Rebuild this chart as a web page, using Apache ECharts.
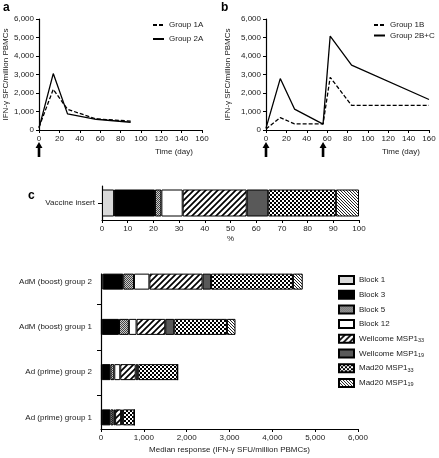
<!DOCTYPE html>
<html><head><meta charset="utf-8">
<script src="https://cdn.jsdelivr.net/npm/echarts@6/dist/echarts.min.js"></script>
<style>html,body{margin:0;padding:0;background:#fff}#c{width:439px;height:458px}</style>
</head><body><div id="c"></div>
<script>
// ---- data ----
const daysA = [0, 14, 28, 56, 90];
const group1A = [150, 2200, 1120, 600, 480];
const group2A = [100, 3050, 870, 580, 420];
const daysB = [0, 14, 28, 56, 63, 84, 160];
const group1B = [50, 670, 330, 330, 2850, 1330, 1330];
const group2BC = [100, 2780, 1130, 320, 5080, 3510, 1650];
const vaccA = [0];
const vaccB = [0, 56];

const blocks = ['Block 1', 'Block 3', 'Block 5', 'Block 12', 'Wellcome MSP1_33', 'Wellcome MSP1_19', 'Mad20 MSP1_33', 'Mad20 MSP1_19'];
const insertPct = [4.7, 15.9, 2.5, 8.3, 24.9, 8.4, 26.3, 9.0];
const groups = ['Ad (prime) group 1', 'Ad (prime) group 2', 'AdM (boost) group 1', 'AdM (boost) group 2'];
const block1 = [20, 20, 20, 40];
const block3 = [200, 200, 400, 480];
const block5 = [70, 90, 230, 250];
const block12 = [40, 140, 180, 360];
const wellcome33 = [140, 360, 670, 1240];
const wellcome19 = [40, 60, 210, 200];
const mad33 = [270, 920, 1230, 1910];
const mad19 = [0, 0, 200, 230];
const groupValues = [block1, block3, block5, block12, wellcome33, wellcome19, mad33, mad19];

// ---- patterns ----
function pat(w, h, draw) {
  const c = document.createElement('canvas'); c.width = w; c.height = h;
  const g = c.getContext('2d'); g.fillStyle = '#fff'; g.fillRect(0, 0, w, h); draw(g);
  return { image: c, repeat: 'repeat' };
}
const fills = [
  '#d9d9d9',
  '#000',
  pat(2, 2, g => { g.fillStyle = '#ccc'; g.fillRect(0,0,2,2); g.fillStyle = '#444'; g.fillRect(0,0,1,1); g.fillRect(1,1,1,1); }),
  '#fff',
  pat(6, 6, g => { g.strokeStyle = '#000'; g.lineWidth = 1.7; g.beginPath();
    g.moveTo(0,6); g.lineTo(6,0); g.moveTo(-3,3); g.lineTo(3,-3); g.moveTo(3,9); g.lineTo(9,3); g.stroke(); }),
  '#595959',
  pat(4, 4, g => { g.fillStyle = '#000'; g.fillRect(0,0,2,2); g.fillRect(2,2,2,2); }),
  pat(3, 3, g => { g.fillStyle = '#222'; g.fillRect(0,0,1,1); g.fillRect(1,1,1,1); g.fillRect(2,2,1,1); })
];

const FONT = 'Liberation Sans, Arial, sans-serif';
const TXT = '#222';
const axLine = { show: true, lineStyle: { color: '#000', width: 1.2 } };
const axTick = { show: true, length: 3, lineStyle: { color: '#000', width: 1 } };
const fmt = v => v.toLocaleString('en-US');

function timeX(gi) {
  return { type: 'value', gridIndex: gi, min: 0, max: 160, interval: 20,
    axisLine: axLine, axisTick: axTick, splitLine: { show: false },
    axisLabel: { fontSize: 8, color: TXT, fontFamily: FONT, margin: 5, showMinLabel: true, showMaxLabel: true } };
}
function respY(gi, gap) {
  return { type: 'value', gridIndex: gi, min: 0, max: 6000, interval: 1000,
    name: 'IFN-\u03b3 SFC/million PBMCs', nameLocation: 'middle', nameGap: gap, nameRotate: 90,
    nameTextStyle: { fontSize: 8, color: TXT, fontFamily: FONT },
    axisLine: axLine, axisTick: axTick, splitLine: { show: false },
    axisLabel: { fontSize: 8, color: TXT, fontFamily: FONT, margin: 5, formatter: fmt, showMinLabel: true, showMaxLabel: true } };
}
function lineSeries(name, xs, ys, gi, dashed) {
  return { type: 'line', name, xAxisIndex: gi, yAxisIndex: gi, symbol: 'none', silent: true, animation: false,
    data: xs.map((d, i) => [d, ys[i]]),
    lineStyle: { color: '#000', width: 1.3, type: dashed ? [4, 2] : 'solid' }, itemStyle: { color: '#000' } };
}

const series = [
  lineSeries('Group 1A', daysA, group1A, 0, true),
  lineSeries('Group 2A', daysA, group2A, 0, false),
  lineSeries('Group 1B', daysB, group1B, 1, true),
  lineSeries('Group 2B+C', daysB, group2BC, 1, false)
];
blocks.forEach((b, i) => {
  const st = { color: fills[i], borderColor: '#000', borderWidth: 1 };
  series.push({ type: 'bar', name: b, stack: 'ins', xAxisIndex: 2, yAxisIndex: 2, barWidth: 27,
    data: [insertPct[i]], itemStyle: st, animation: false, silent: true });
  series.push({ type: 'bar', name: b, stack: 'grp', xAxisIndex: 3, yAxisIndex: 3, barWidth: 16,
    data: groupValues[i], itemStyle: st, animation: false, silent: true });
});

const legendText = { fontSize: 8, color: TXT, fontFamily: FONT, lineHeight: 10 };
const lineLegendItem = { color: 'rgba(0,0,0,0)', borderColor: 'rgba(0,0,0,0)', borderWidth: 0 };
const chart = echarts.init(document.getElementById('c'), null, { renderer: 'canvas' });
chart.setOption({
  animation: false,
  backgroundColor: '#fff',
  textStyle: { fontFamily: FONT },
  grid: [
    { left: 39, top: 19, width: 163, height: 111, outerBoundsMode: 'none' },
    { left: 266, top: 19, width: 163, height: 111, outerBoundsMode: 'none' },
    { left: 102, top: 186, width: 257, height: 34, outerBoundsMode: 'none' },
    { left: 101, top: 259, width: 257, height: 181, outerBoundsMode: 'none' },
    { left: 101, top: 274, width: 257, height: 155, outerBoundsMode: 'none' }
  ],
  xAxis: [
    timeX(0), timeX(1),
    { type: 'value', gridIndex: 2, min: 0, max: 100, interval: 10, name: '%', nameLocation: 'middle', nameGap: 15,
      nameTextStyle: { fontSize: 8, color: TXT, fontFamily: FONT },
      axisLine: axLine, axisTick: axTick, splitLine: { show: false },
      axisLabel: { fontSize: 8, color: TXT, fontFamily: FONT, margin: 5, showMinLabel: true, showMaxLabel: true } },
    { type: 'value', gridIndex: 3, min: 0, max: 6000, show: false },
    { type: 'value', gridIndex: 4, min: 0, max: 6000, interval: 1000,
      name: 'Median response (IFN-\u03b3 SFU/million PBMCs)', nameLocation: 'middle', nameGap: 17,
      nameTextStyle: { fontSize: 8, color: TXT, fontFamily: FONT },
      axisLine: axLine, axisTick: axTick, splitLine: { show: false },
      axisLabel: { fontSize: 8, color: TXT, fontFamily: FONT, margin: 5, formatter: fmt, showMinLabel: true, showMaxLabel: true } }
  ],
  yAxis: [
    respY(0, 28), respY(1, 34),
    { type: 'category', gridIndex: 2, data: ['Vaccine insert'],
      axisLine: axLine, axisTick: { show: true, length: 4, alignWithLabel: true, lineStyle: { color: '#000' } },
      axisLabel: { fontSize: 8, color: TXT, fontFamily: FONT, margin: 7 } },
    { type: 'category', gridIndex: 3, data: groups,
      axisLine: { show: false }, axisTick: { show: false },
      axisLabel: { fontSize: 8, color: TXT, fontFamily: FONT, margin: 9 } },
    { type: 'value', gridIndex: 4, min: 0.75, max: 4.18,
      axisLine: axLine, splitLine: { show: false },
      axisTick: { show: true, length: 4, lineStyle: { color: '#000' }, customValues: [1.5, 2.5, 3.5] },
      axisLabel: { show: false } }
  ],
  legend: [
    { data: ['Group 1A', 'Group 2A'], orient: 'vertical', left: 147, top: 15, itemWidth: 11, itemHeight: 10, itemGap: 4,
      itemStyle: lineLegendItem, textStyle: legendText, selectedMode: false },
    { data: ['Group 1B', 'Group 2B+C'], orient: 'vertical', left: 368, top: 15, itemWidth: 11, itemHeight: 10, itemGap: 0.5,
      itemStyle: lineLegendItem, textStyle: legendText, selectedMode: false },
    { data: blocks, orient: 'vertical', left: 333, top: 270, itemWidth: 15, itemHeight: 8, itemGap: 4.7, icon: 'rect',
      selectedMode: false,
      formatter: n => { const m = n.match(/^(.*)_(\d+)$/); return m ? '{n|' + m[1] + '}{s|' + m[2] + '}' : '{n|' + n + '}'; },
      textStyle: { fontSize: 8, color: TXT, fontFamily: FONT, lineHeight: 10,
        rich: { n: { fontSize: 8, color: TXT, fontFamily: FONT, lineHeight: 10 },
                s: { fontSize: 5.5, color: TXT, fontFamily: FONT, lineHeight: 10, verticalAlign: 'bottom', padding: [4, 0, 0, 0] } } } }
  ],
  series
});

function arrow(x) {
  return { type: 'polygon', silent: true,
    shape: { points: [[x, 142], [x + 3.5, 148], [x + 1.3, 148], [x + 1.3, 157], [x - 1.3, 157], [x - 1.3, 148], [x - 3.5, 148]] },
    style: { fill: '#000' } };
}
const graphics = [
  { type: 'text', left: 3, top: 2, style: { text: 'a', font: 'bold 12px ' + FONT, fill: '#000' } },
  { type: 'text', left: 221, top: 2, style: { text: 'b', font: 'bold 12px ' + FONT, fill: '#000' } },
  { type: 'text', left: 28, top: 190, style: { text: 'c', font: 'bold 12px ' + FONT, fill: '#000' } },
  { type: 'text', left: 155, top: 148, style: { text: 'Time (day)', font: '8px ' + FONT, fill: TXT } },
  { type: 'text', left: 382, top: 148, style: { text: 'Time (day)', font: '8px ' + FONT, fill: TXT } }
];
vaccA.forEach(d => graphics.push(arrow(chart.convertToPixel({ xAxisIndex: 0 }, d))));
vaccB.forEach(d => graphics.push(arrow(chart.convertToPixel({ xAxisIndex: 1 }, d))));
chart.setOption({ graphic: graphics });
</script></body></html>
